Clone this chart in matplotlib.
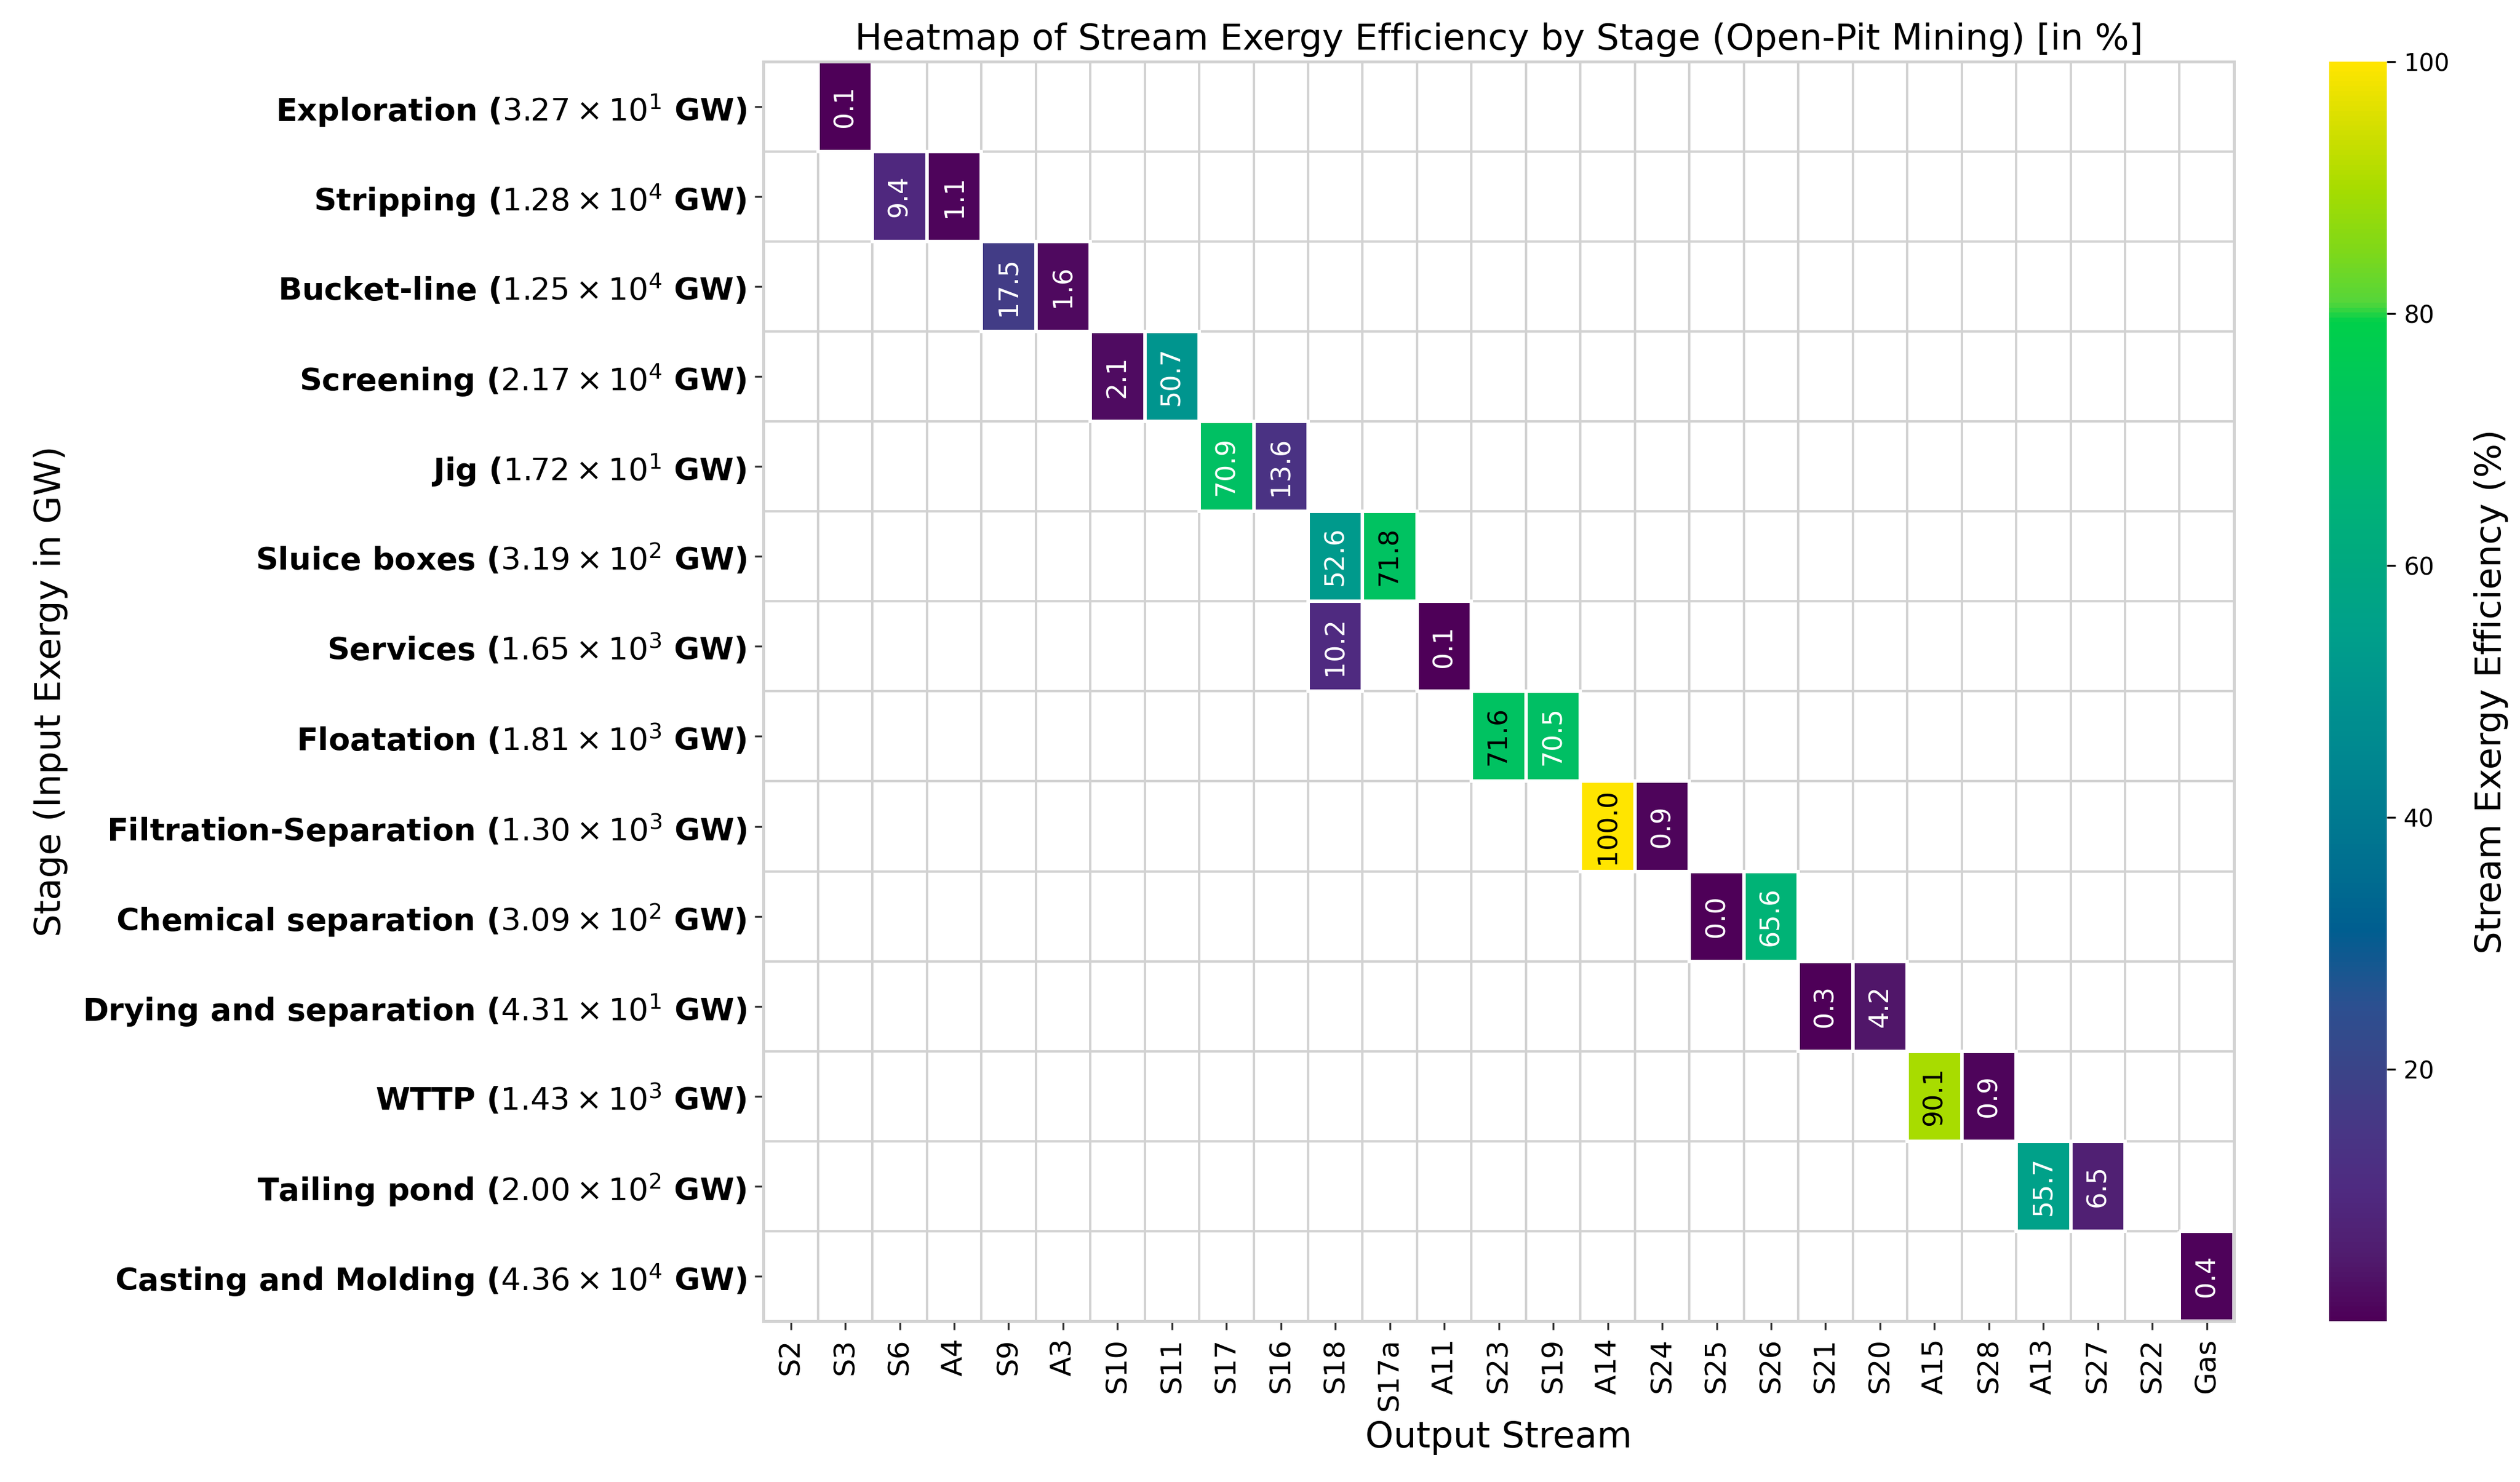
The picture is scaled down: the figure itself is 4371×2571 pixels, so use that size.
import numpy as np
import matplotlib
matplotlib.use("Agg")
import matplotlib.pyplot as plt
from matplotlib.colors import LinearSegmentedColormap

# ---- data ----
stages = ["Exploration", "Stripping", "Bucket-line", "Screening", "Jig",
          "Sluice boxes", "Services", "Floatation", "Filtration-Separation",
          "Chemical separation", "Drying and separation", "WTTP",
          "Tailing pond", "Casting and Molding"]
input_mantissa = [3.27, 1.28, 1.25, 2.17, 1.72, 3.19, 1.65, 1.81, 1.30, 3.09, 4.31, 1.43, 2.00, 4.36]
input_exponent = [1, 4, 4, 4, 1, 2, 3, 3, 3, 2, 1, 3, 2, 4]

streams = ["S2", "S3", "S6", "A4", "S9", "A3", "S10", "S11", "S17", "S16", "S18",
           "S17a", "A11", "S23", "S19", "A14", "S24", "S25", "S26", "S21", "S20",
           "A15", "S28", "A13", "S27", "S22", "Gas"]

# (stage, stream, efficiency %)
cell_stage = ["Exploration", "Stripping", "Stripping", "Bucket-line", "Bucket-line",
              "Screening", "Screening", "Jig", "Jig", "Sluice boxes", "Sluice boxes",
              "Services", "Services", "Floatation", "Floatation",
              "Filtration-Separation", "Filtration-Separation",
              "Chemical separation", "Chemical separation",
              "Drying and separation", "Drying and separation",
              "WTTP", "WTTP", "Tailing pond", "Tailing pond", "Casting and Molding"]
cell_stream = ["S3", "S6", "A4", "S9", "A3", "S10", "S11", "S17", "S16", "S18", "S17a",
               "S18", "A11", "S23", "S19", "A14", "S24", "S25", "S26", "S21", "S20",
               "A15", "S28", "A13", "S27", "Gas"]
cell_value = [0.1, 9.4, 1.1, 17.5, 1.6, 2.1, 50.7, 70.9, 13.6, 52.6, 71.8,
              10.2, 0.1, 71.6, 70.5, 100.0, 0.9, 0.0, 65.6, 0.3, 4.2,
              90.1, 0.9, 55.7, 6.5, 0.4]

# ---- build matrix ----
M = np.full((len(stages), len(streams)), np.nan)
for s, c, v in zip(cell_stage, cell_stream, cell_value):
    M[stages.index(s), streams.index(c)] = v
Mm = np.ma.masked_invalid(M)

# colormap resembling the (saturated) viridis of the reference
anchors = [(0.00, "#4e0058"), (0.05, "#501c6e"), (0.10, "#4f2a80"), (0.15, "#483685"),
           (0.20, "#3a4488"), (0.25, "#2c5090"), (0.31, "#005e90"), (0.35, "#006c90"),
           (0.40, "#007a90"), (0.45, "#008890"), (0.50, "#00938e"), (0.55, "#00a08a"),
           (0.60, "#00a880"), (0.65, "#00b278"), (0.70, "#00be66"), (0.75, "#00c858"),
           (0.795, "#00d04a"), (0.81, "#55d63a"), (0.85, "#7ed81a"), (0.90, "#a6dc00"),
           (0.95, "#d4df00"), (1.00, "#ffe500")]
cmap = LinearSegmentedColormap.from_list("satviridis", anchors)
cmap.set_bad((0, 0, 0, 0))

plt.rcParams["font.family"] = ["DejaVu Sans"]
fig = plt.figure(figsize=(4371 / 300, 2571 / 300), dpi=300)
ax = fig.add_axes([0.303, 0.1085, 0.5835, 0.850])
cax = fig.add_axes([0.9243, 0.1085, 0.0229, 0.850])

nr, nc = M.shape
# background grid at cell boundaries
for x in range(nc + 1):
    ax.axvline(x, color="#d2d2d2", lw=1.0, zorder=1)
for y in range(nr + 1):
    ax.axhline(y, color="#d2d2d2", lw=1.0, zorder=1)

mesh = ax.pcolormesh(np.arange(nc + 1), np.arange(nr + 1), Mm, cmap=cmap,
                     vmin=0, vmax=100, linewidth=1.4, zorder=2)
edge = np.zeros((nr * nc, 4))
edge[~np.isnan(M).ravel()] = (1, 1, 1, 1)
mesh.set_edgecolor(edge)
ax.set_xlim(0, nc)
ax.set_ylim(nr, 0)

for i in range(nr):
    for j in range(nc):
        v = M[i, j]
        if np.isnan(v):
            continue
        col = "black" if v > 71.0 else "white"
        ax.text(j + 0.5, i + 0.5, f"{v:.1f}", rotation=90, ha="center", va="center",
                fontsize=11, color=col, zorder=3)

ylabels = [rf"{n} (${m:.2f} \times 10^{{{e}}}$ GW)" for n, m, e in zip(stages, input_mantissa, input_exponent)]
ax.set_yticks(np.arange(nr) + 0.5)
ax.set_yticklabels(ylabels, fontsize=13, fontweight="bold")
ax.set_xticks(np.arange(nc) + 0.5)
ax.set_xticklabels(streams, rotation=90, fontsize=12)
ax.tick_params(axis="both", color="#333333", length=3.5)

for sp in ax.spines.values():
    sp.set_color("#d2d2d2")
    sp.set_linewidth(1.2)

ax.set_title("Heatmap of Stream Exergy Efficiency by Stage (Open-Pit Mining) [in %]", fontsize=15, pad=5)
ax.set_xlabel("Output Stream", fontsize=15)
ax.set_ylabel("Stage (Input Exergy in GW)", fontsize=15, labelpad=6)

cb = fig.colorbar(mesh, cax=cax)
cb.set_ticks([20, 40, 60, 80, 100])
cb.ax.tick_params(labelsize=10, length=3.5)
cb.outline.set_visible(False)
cb.set_label("Stream Exergy Efficiency (%)", fontsize=15, labelpad=10)

fig.savefig("out.png", dpi=300)
